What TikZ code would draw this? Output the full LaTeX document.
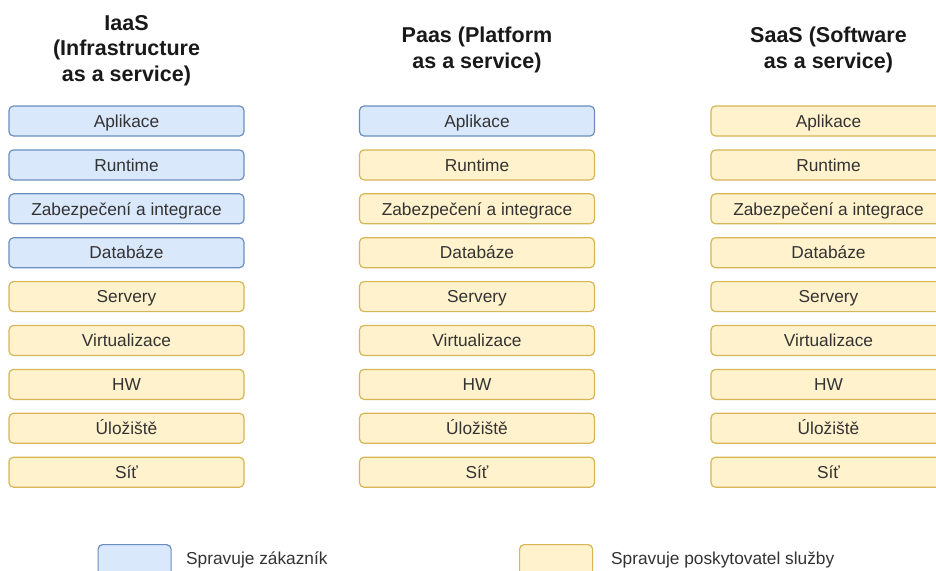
\documentclass[tikz,border=0pt]{standalone}
\usepackage{fontspec}
\setmainfont{Liberation Sans}
\definecolor{custfill}{HTML}{DAE8FC}
\definecolor{custdraw}{HTML}{6C8EBF}
\definecolor{provfill}{HTML}{FFF2CC}
\definecolor{provdraw}{HTML}{D6B656}
\definecolor{txt}{HTML}{333333}
\tikzset{
  layer/.style={rounded corners=4.5pt, line width=1.2pt, minimum width=235pt,
    minimum height=30pt, inner sep=0pt, text=txt, text height=12.4pt, text depth=0pt,
    font=\fontsize{17.3}{20}\selectfont},
  cust/.style={layer, fill=custfill, draw=custdraw},
  prov/.style={layer, fill=provfill, draw=provdraw},
  head/.style={anchor=base, inner sep=0pt, font=\fontsize{21.5}{26}\selectfont\bfseries, text=black!90},
  legendbox/.style={rounded corners=4.5pt, line width=1.2pt, minimum width=73pt,
    minimum height=40pt, inner sep=0pt, anchor=north west},
  legendtext/.style={anchor=base west, inner sep=0pt, text=txt, font=\fontsize{17.3}{20}\selectfont}
}
\begin{document}
\begin{tikzpicture}[x=1pt,y=-1pt]
\useasboundingbox (0,0) rectangle (936,570);
\clip (0,0) rectangle (936,570);
\fill[white] (0,0) rectangle (936,570);

% column headers (one node per line, placed on their baselines)
\node[head] (hI1) at (126.5,30) {IaaS};
\node[head] (hI2) at (126.5,55.5) {(Infrastructure};
\node[head] (hI3) at (126.5,81) {as a service)};
\node[head] (hP1) at (477,42.7) {Paas (Platform};
\node[head] (hP2) at (477,68.2) {as a service)};
\node[head] (hS1) at (828.5,42.7) {SaaS (Software};
\node[head] (hS2) at (828.5,68.2) {as a service)};

% layer stacks: #1 = column key, #2 = number of layers the customer manages
\newcommand\stackcol[2]{%
  \foreach \lbl [count=\i] in {Aplikace,Runtime,Zabezpečení a integrace,Databáze,Servery,Virtualizace,HW,Úložiště,Síť}{%
    \pgfmathsetmacro\yy{121+(\i-1)*43.9}%
    \pgfmathparse{\i<=#2 ? "cust" : "prov"}%
    \edef\sty{\pgfmathresult}%
    \node[\sty] (#1-\i) at (\csname colx#1\endcsname,\yy) {\lbl};
  }%
}
\def\colxI{126.5}
\def\colxP{477}
\def\colxS{828.5}
\stackcol{I}{4}
\stackcol{P}{1}
\stackcol{S}{0}

% legend
\node[legendbox, fill=custfill, draw=custdraw] (lc) at (97.5,544) {};
\node[legendtext] (lct) at (186,564) {Spravuje zákazník};
\node[legendbox, fill=provfill, draw=provdraw] (lp) at (519,544) {};
\node[legendtext] (lpt) at (611,564) {Spravuje poskytovatel služby};
\end{tikzpicture}
\end{document}
